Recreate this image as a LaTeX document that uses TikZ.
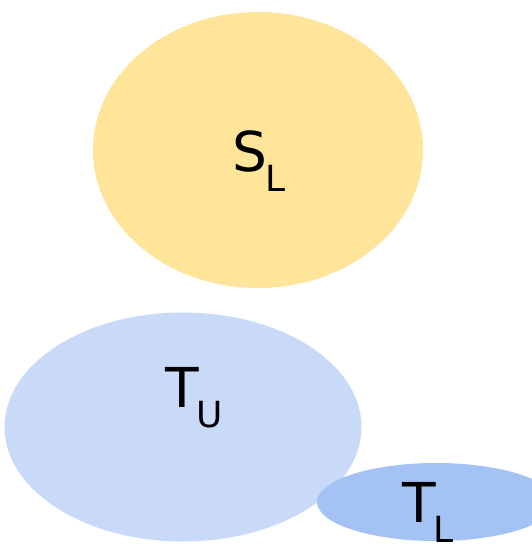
\documentclass[tikz,border=0pt]{standalone}
\usepackage{fontspec}
\setmainfont{DejaVu Sans}
\usetikzlibrary{shapes.geometric}
\definecolor{setyellow}{HTML}{FFE599}
\definecolor{setblue}{HTML}{C9DAF8}
\definecolor{setdarkblue}{HTML}{A4C2F4}
\newcommand{\setname}[2]{\fontsize{55}{55}\selectfont #1\kern-2pt\raisebox{-20pt}{\fontsize{36}{36}\selectfont #2}}
\begin{document}
\begin{tikzpicture}[
    x=1pt, y=-1pt,
    blob/.style={ellipse, draw=none, inner sep=0pt, fill=#1},
    setlabel/.style={anchor=base west, inner sep=0pt, text=black}
]
\clip (0,0) rectangle (532,544);
\useasboundingbox (0,0) rectangle (532,544);

% === Sets ===
\node[blob=setyellow, minimum width=330pt, minimum height=276pt] (sl) at (258,150) {};
\node[blob=setblue, minimum width=357pt, minimum height=229pt] (tu) at (183,427) {};
\node[blob=setdarkblue, minimum width=238pt, minimum height=78pt] (tl) at (436,502) {};

% === Labels ===
\node[setlabel] (slname) at (232,171) {\setname{S}{L}};
\node[setlabel] (tuname) at (165,407) {\setname{T}{U}};
\node[setlabel] (tlname) at (402,522) {\setname{T}{L}};

\end{tikzpicture}
\end{document}
